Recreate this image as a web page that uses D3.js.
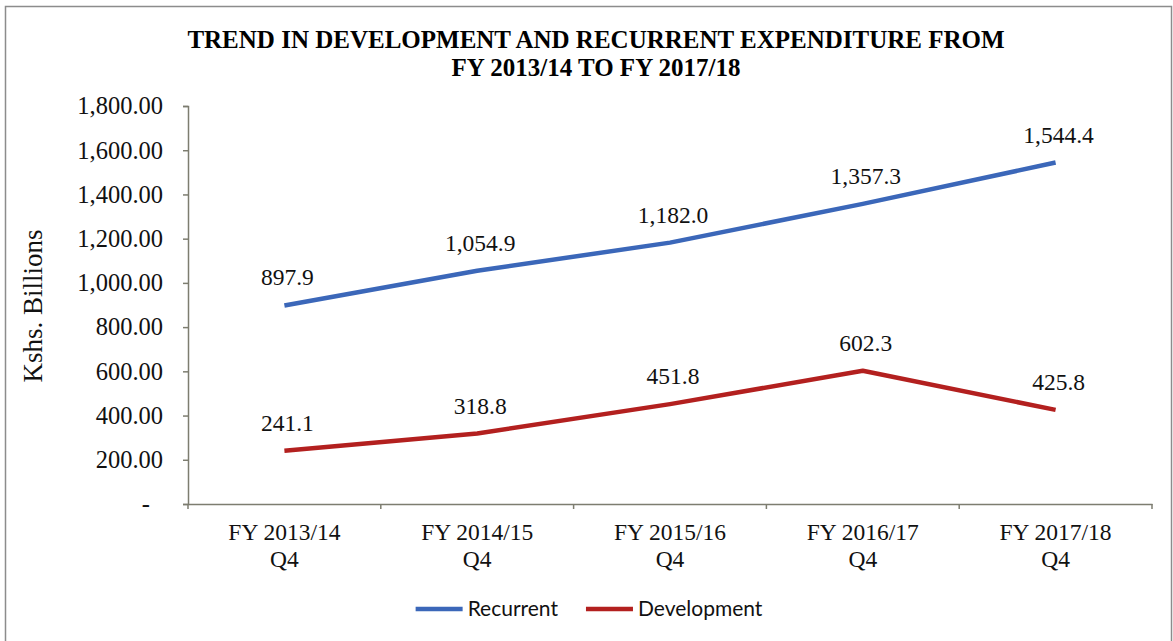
<!DOCTYPE html>
<html>
<head>
<meta charset="utf-8">
<script src="https://cdn.jsdelivr.net/npm/d3@7"></script>
<style>
  body { margin: 0; background: #fff; }
  svg { display: block; }
</style>
</head>
<body>
<div id="chart"></div>
<script>
const categories = ['FY 2013/14|Q4', 'FY 2014/15|Q4', 'FY 2015/16|Q4', 'FY 2016/17|Q4', 'FY 2017/18|Q4']
const recurrent = [897.9, 1054.9, 1182.0, 1357.3, 1544.4]
const development = [241.1, 318.8, 451.8, 602.3, 425.8]
const yTicks = [0, 200, 400, 600, 800, 1000, 1200, 1400, 1600, 1800]
const titleLines = ['TREND IN DEVELOPMENT AND RECURRENT EXPENDITURE FROM', 'FY 2013/14 TO FY 2017/18']
const yTitle = 'Kshs. Billions'

const series = [
  { name: 'Recurrent', values: recurrent, color: '#3b67b9', fmt: d3.format(',.1f') },
  { name: 'Development', values: development, color: '#b3201f', fmt: d3.format(',.1f') }
]

const W = 1173
const H = 641
const margin = { top: 106, right: 21, bottom: 137, left: 188 }
const width = W - margin.left - margin.right
const height = H - margin.top - margin.bottom
const serif = '"Liberation Serif", "Times New Roman", serif'

const svg = d3.select('#chart')
  .append('svg')
  .attr('width', W)
  .attr('height', H)

// outer frame
svg.append('rect')
  .attr('x', 5.5)
  .attr('y', 6.5)
  .attr('width', 1166)
  .attr('height', 700)
  .attr('fill', 'none')
  .attr('stroke', '#8c8c8c')
  .attr('stroke-width', 1.5)

svg.append('text')
  .attr('x', 596)
  .attr('y', 48)
  .attr('text-anchor', 'middle')
  .attr('font-family', serif)
  .attr('font-weight', 'bold')
  .attr('font-size', 25)
  .selectAll('tspan')
  .data(titleLines)
  .enter().append('tspan')
  .attr('x', 596)
  .attr('dy', (_, i) => i === 0 ? 0 : 28)
  .text(d => d)

const g = svg.append('g')
  .attr('transform', `translate(${margin.left},${margin.top})`)

const x = d3.scaleBand()
  .domain(categories)
  .range([0, width])

const y = d3.scaleLinear()
  .domain([0, 1800])
  .range([height, 0])

// y axis
const yAxis = g.append('g')
  .call(d3.axisLeft(y)
    .tickValues(yTicks)
    .tickSize(5)
    .tickPadding(20)
    .tickFormat(d => d === 0 ? '-' : d3.format(',.2f')(d)))

yAxis.selectAll('text')
  .attr('font-family', serif)
  .attr('font-size', 24.5)
  .attr('fill', '#111')
  .attr('dx', d => d === 0 ? -13 : 0)

// x axis with ticks at band edges
const xAxis = g.append('g')
  .attr('transform', `translate(0,${height})`)
  .call(d3.axisBottom(x).tickSize(0).tickFormat(''))

xAxis.selectAll('.tick').remove()

const edges = d3.range(categories.length + 1).map(i => i * x.step())
xAxis.selectAll('.edge')
  .data(edges)
  .enter().append('line')
  .attr('class', 'edge')
  .attr('x1', d => d)
  .attr('x2', d => d)
  .attr('y1', 0)
  .attr('y2', 5)
  .attr('stroke', '#7d7d70')
  .attr('stroke-width', 1.5)

g.selectAll('.domain')
  .attr('stroke', '#7d7d70')
  .attr('stroke-width', 1.5)
yAxis.selectAll('.tick line')
  .attr('stroke', '#7d7d70')
  .attr('stroke-width', 1.5)

const xLabels = xAxis.selectAll('.xlabel')
  .data(categories)
  .enter().append('text')
  .attr('class', 'xlabel')
  .attr('text-anchor', 'middle')
  .attr('font-family', serif)
  .attr('font-size', 23.5)
  .attr('fill', '#111')

xLabels.selectAll('tspan')
  .data(d => d.split('|').map(t => ({ t, c: d })))
  .enter().append('tspan')
  .attr('x', d => x(d.c) + x.bandwidth() / 2)
  .attr('y', (_, i) => 36 + i * 27)
  .text(d => d.t)

// y axis title
svg.append('text')
  .attr('transform', 'translate(42,306) rotate(-90)')
  .attr('text-anchor', 'middle')
  .attr('font-family', serif)
  .attr('font-size', 27)
  .attr('fill', '#111')
  .text(yTitle)

const line = d3.line()
  .x((_, i) => x(categories[i]) + x.bandwidth() / 2)
  .y(d => y(d))

series.forEach(s => {
  g.append('path')
    .datum(s.values)
    .attr('d', line)
    .attr('fill', 'none')
    .attr('stroke', s.color)
    .attr('stroke-width', 4.5)
    .attr('stroke-linejoin', 'round')

  g.selectAll(`.lbl-${s.name}`)
    .data(s.values)
    .enter().append('text')
    .attr('x', (_, i) => x(categories[i]) + x.bandwidth() / 2 + 3)
    .attr('y', d => y(d) - 20)
    .attr('text-anchor', 'middle')
    .attr('font-family', serif)
    .attr('font-size', 23.5)
    .attr('fill', '#111')
    .text(d => s.fmt(d))
})

// legend
const legend = svg.append('g')
const legendY = 609
let lx = 0
series.forEach(s => {
  const item = legend.append('g').attr('transform', `translate(${lx},0)`)
  item.append('line')
    .attr('x1', 0)
    .attr('x2', 47)
    .attr('y1', legendY)
    .attr('y2', legendY)
    .attr('stroke', s.color)
    .attr('stroke-width', 4.5)
  const t = item.append('text')
    .attr('x', 52)
    .attr('y', legendY + 7)
    .attr('font-family', 'Lato, "Open Sans", sans-serif')
    .attr('font-size', 21)
    .attr('fill', '#111')
    .text(s.name)
  lx += 52 + t.node().getComputedTextLength() + 28
})
const lw = lx - 28
legend.attr('transform', `translate(${589 - lw / 2},0)`)
</script>
</body>
</html>
